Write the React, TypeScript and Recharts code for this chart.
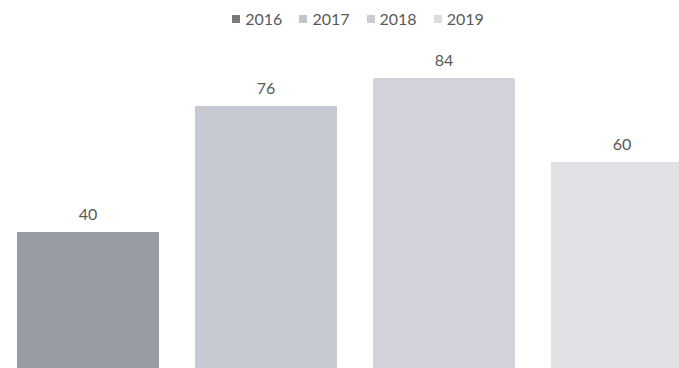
import { Bar, BarChart, LabelList, XAxis, YAxis } from "recharts"

const years = ["2016", "2017", "2018", "2019"]
const values = [40, 76, 84, 60]
const barColors = ["#999da3", "#c8cad3", "#d2d3da", "#e0e0e5"]
const legendColors = ["#77797d", "#c2c3c8", "#cbccd0", "#dcdcdf"]

const data = [
  years.reduce((row, y, i) => ({ ...row, [y]: values[i] }), { name: "" } as Record<string, string | number>),
]

const font = "Lato, 'Open Sans', sans-serif"

export default function App() {
  return (
    <div style={{ position: "fixed", top: 0, left: 0, width: 679, height: 368, overflow: "hidden", background: "#fff" }}>
      <div
        style={{
          position: "absolute",
          top: 9,
          left: 0,
          width: 716,
          display: "flex",
          justifyContent: "center",
          gap: 17,
          fontFamily: font,
          fontSize: 16,
          color: "#595959",
          lineHeight: "20px",
        }}
      >
        {years.map((y, i) => (
          <div key={y} style={{ display: "flex", alignItems: "center", gap: 5 }}>
            <span style={{ width: 8, height: 8, background: legendColors[i], display: "inline-block" }} />
            <span>{y}</span>
          </div>
        ))}
      </div>
      <div style={{ position: "absolute", top: 0, left: 0 }}>
        <BarChart width={710} height={400} data={data} margin={{ top: 22, right: 0, left: 0, bottom: 28 }} barGap={36}>
          <XAxis dataKey="name" hide />
          <YAxis hide domain={[0, 100]} />
          {years.map((y, i) => (
            <Bar key={y} dataKey={y} fill={barColors[i]} barSize={142} isAnimationActive={false}>
              <LabelList dataKey={y} position="top" offset={12} fill="#595959" fontSize={16} fontFamily={font} />
            </Bar>
          ))}
        </BarChart>
      </div>
    </div>
  )
}
